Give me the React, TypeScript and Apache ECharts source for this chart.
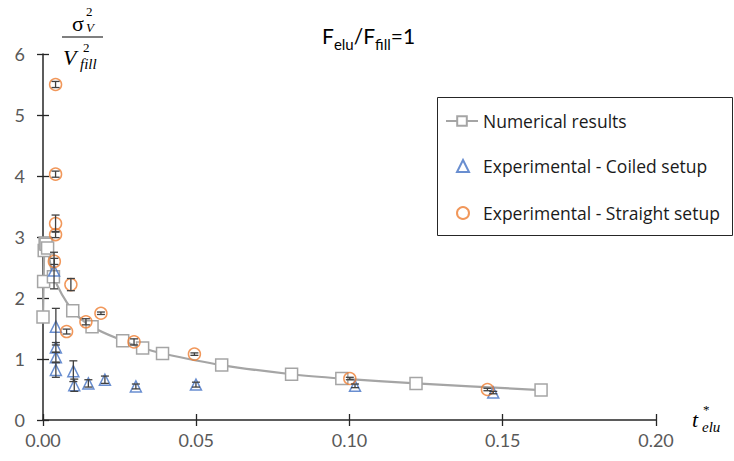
import React, { useEffect, useRef } from "react";
import * as echarts from "echarts";

// Numerical results
const numX = [0.0, 0.0002, 0.0004, 0.0007, 0.001, 0.0015, 0.0034, 0.0097, 0.016, 0.026, 0.0325, 0.039, 0.0583, 0.0811, 0.0975, 0.1217, 0.1625];
const numY = [1.69, 2.27, 2.78, 2.9, 2.88, 2.82, 2.35, 1.79, 1.53, 1.3, 1.18, 1.09, 0.9, 0.75, 0.68, 0.6, 0.49];

// Experimental - Coiled setup
const coiledX = [0.0036, 0.0042, 0.0042, 0.0042, 0.0042, 0.0099, 0.0102, 0.0148, 0.0202, 0.0303, 0.0499, 0.1018, 0.1469];
const coiledY = [2.45, 1.53, 1.19, 1.03, 0.82, 0.8, 0.57, 0.6, 0.66, 0.55, 0.58, 0.56, 0.45];
const coiledErr = [0.3, 0.3, 0.08, 0.08, 0.12, 0.17, 0.1, 0.06, 0.06, 0.04, 0.04, 0.03, 0.02];

// Experimental - Straight setup
const straightX = [0.0041, 0.0041, 0.0041, 0.0041, 0.0037, 0.0091, 0.0077, 0.014, 0.0189, 0.0297, 0.0494, 0.1001, 0.145];
const straightY = [5.5, 4.03, 3.22, 3.04, 2.6, 2.22, 1.45, 1.61, 1.75, 1.28, 1.08, 0.68, 0.5];
const straightErr = [0.05, 0.05, 0.14, 0.05, 0.05, 0.1, 0.04, 0.05, 0.02, 0.05, 0.02, 0.02, 0.02];

const xTicks = [0, 0.05, 0.1, 0.15, 0.2];
const yTicks = [0, 1, 2, 3, 4, 5, 6];

const FONT = "Lato, 'Open Sans', sans-serif";
const LEGEND_FONT = "'Open Sans', Lato, sans-serif";
const SERIF = "'Liberation Serif', 'DejaVu Serif', serif";

export default function App() {
  const ref = useRef<HTMLDivElement>(null);
  useEffect(() => {
    if (!ref.current) return;
    const chart = echarts.init(ref.current, null, { renderer: "svg" });
    const errData = [
      ...coiledX.map((x, i) => [x, coiledY[i], coiledErr[i]]),
      ...straightX.map((x, i) => [x, straightY[i], straightErr[i]]),
    ];
    const gridBox = { left: 43, right: 78, top: 54, bottom: 41 };
    const xBase = {
      type: "value",
      min: xTicks[0],
      max: xTicks[xTicks.length - 1],
      interval: 0.05,
      splitLine: { show: false },
    };
    const yBase = {
      type: "value",
      min: yTicks[0],
      max: yTicks[yTicks.length - 1],
      interval: 1,
      splitLine: { show: false },
    };
    const legendText = { color: "#1a1a1a", fontSize: 17.5, fontFamily: LEGEND_FONT, lineHeight: 20 };
    chart.setOption({
      animation: false,
      backgroundColor: "#ffffff",
      grid: [{ ...gridBox }, { ...gridBox }],
      xAxis: [
        {
          ...xBase,
          gridIndex: 0,
          axisLine: { onZero: false, lineStyle: { color: "#262626", width: 1.5 } },
          axisTick: { show: true, inside: false, length: 6, lineStyle: { color: "#262626", width: 1.3 } },
          axisLabel: {
            color: "#595959",
            fontSize: 18,
            fontFamily: FONT,
            margin: 11,
            formatter: (v: number) => v.toFixed(2),
          },
        },
        {
          ...xBase,
          gridIndex: 1,
          axisLine: { show: false },
          axisTick: { show: true, inside: true, length: 6, lineStyle: { color: "#262626", width: 1.3 } },
          axisLabel: { show: false },
        },
      ],
      yAxis: [
        {
          ...yBase,
          gridIndex: 0,
          axisLine: { show: true, onZero: false, lineStyle: { color: "#262626", width: 1.5 } },
          axisTick: { show: true, inside: false, length: 6, lineStyle: { color: "#262626", width: 1.3 } },
          axisLabel: { color: "#595959", fontSize: 18, fontFamily: FONT, margin: 18 },
        },
        {
          ...yBase,
          gridIndex: 1,
          axisLine: { show: false },
          axisTick: { show: true, inside: true, length: 6, lineStyle: { color: "#262626", width: 1.3 } },
          axisLabel: { show: false },
        },
      ],
      legend: [
        {
          orient: "vertical",
          left: 445,
          top: 111,
          data: ["Numerical results"],
          padding: 0,
          itemWidth: 32,
          itemHeight: 12,
          textStyle: legendText,
        },
        {
          orient: "vertical",
          left: 456,
          top: 156,
          data: [
            { name: "Experimental - Coiled setup", icon: "triangle" },
            { name: "Experimental - Straight setup", icon: "circle" },
          ],
          padding: 0,
          itemGap: 27,
          itemWidth: 12,
          itemHeight: 12,
          textStyle: { ...legendText, padding: [0, 0, 0, 9] },
        },
      ],
      series: [
        {
          name: "Numerical results",
          type: "line",
          xAxisIndex: 0,
          yAxisIndex: 0,
          data: numX.map((x, i) => [x, numY[i]]),
          smooth: 0.3,
          symbol: "rect",
          symbolSize: 12,
          showAllSymbol: true,
          lineStyle: { color: "#A5A5A5", width: 2.25 },
          itemStyle: { color: "#ffffff", borderColor: "#A5A5A5", borderWidth: 1.5 },
          z: 2,
        },
        {
          name: "Experimental - Coiled setup",
          type: "scatter",
          xAxisIndex: 0,
          yAxisIndex: 0,
          data: coiledX.map((x, i) => [x, coiledY[i]]),
          symbol: "triangle",
          symbolSize: 11,
          itemStyle: { color: "rgba(255,255,255,0)", borderColor: "#4472C4", borderWidth: 1.5 },
          z: 3,
        },
        {
          name: "Experimental - Straight setup",
          type: "scatter",
          xAxisIndex: 0,
          yAxisIndex: 0,
          data: straightX.map((x, i) => [x, straightY[i]]),
          symbol: "circle",
          symbolSize: 12,
          itemStyle: { color: "rgba(255,255,255,0)", borderColor: "#ED7D31", borderWidth: 1.5 },
          z: 3,
        },
        {
          name: "errors",
          type: "custom",
          xAxisIndex: 0,
          yAxisIndex: 0,
          data: errData,
          encode: { x: 0, y: 1 },
          z: 4,
          renderItem: (params: any, api: any) => {
            const x = api.value(0);
            const y = api.value(1);
            const e = api.value(2);
            const top = api.coord([x, y + e]);
            const bot = api.coord([x, y - e]);
            const w = 4;
            const st = { stroke: "#404040", lineWidth: 1.3 };
            return {
              type: "group",
              children: [
                { type: "line", shape: { x1: top[0], y1: top[1], x2: bot[0], y2: bot[1] }, style: st },
                { type: "line", shape: { x1: top[0] - w, y1: top[1], x2: top[0] + w, y2: top[1] }, style: st },
                { type: "line", shape: { x1: bot[0] - w, y1: bot[1], x2: bot[0] + w, y2: bot[1] }, style: st },
              ],
            };
          },
        },
      ],
      graphic: [
        // Legend box
        {
          type: "rect",
          z: -1,
          shape: { x: 437.5, y: 97.5, width: 295, height: 138 },
          style: { fill: "#ffffff", stroke: "#262626", lineWidth: 1 },
        },
        // Title
        {
          type: "text",
          left: 322,
          top: 25,
          style: {
            text: "{a|F}{b|elu}{a|/F}{b|fill}{a|=1}",
            rich: {
              a: { fontSize: 21, fontFamily: FONT, fill: "#000000", lineHeight: 25, verticalAlign: "bottom" },
              b: { fontSize: 15, fontFamily: FONT, fill: "#000000", lineHeight: 25, verticalAlign: "bottom", padding: [0, 0, -5, 0] },
            },
          },
        },
        // Y-axis label: sigma_V^2 / V_fill^2
        { type: "text", x: 72, y: 12, style: { text: "σ", fontSize: 22, fontFamily: SERIF, fill: "#000" } },
        { type: "text", x: 86, y: 5, style: { text: "2", fontSize: 13, fontFamily: SERIF, fill: "#000" } },
        { type: "text", x: 86, y: 21, style: { text: "V", fontSize: 13, fontFamily: SERIF, fontStyle: "italic", fill: "#000" } },
        { type: "line", shape: { x1: 62, y1: 37, x2: 103, y2: 37 }, style: { stroke: "#000", lineWidth: 1.2 } },
        { type: "text", x: 63, y: 46, style: { text: "V", fontSize: 22, fontFamily: SERIF, fontStyle: "italic", fill: "#000" } },
        { type: "text", x: 83, y: 41, style: { text: "2", fontSize: 13, fontFamily: SERIF, fill: "#000" } },
        { type: "text", x: 80, y: 56, style: { text: "fill", fontSize: 15, fontFamily: SERIF, fontStyle: "italic", fill: "#000" } },
        // X-axis label t*_elu
        { type: "text", x: 692, y: 408, style: { text: "t", fontSize: 22, fontFamily: SERIF, fontStyle: "italic", fill: "#000" } },
        { type: "text", x: 703, y: 403, style: { text: "*", fontSize: 13, fontFamily: SERIF, fill: "#000" } },
        { type: "text", x: 702, y: 419, style: { text: "elu", fontSize: 15, fontFamily: SERIF, fontStyle: "italic", fill: "#000" } },
      ],
    });
    return () => chart.dispose();
  }, []);
  return <div ref={ref} style={{ width: 734, height: 461, position: "absolute", left: 0, top: 0 }} />;
}
